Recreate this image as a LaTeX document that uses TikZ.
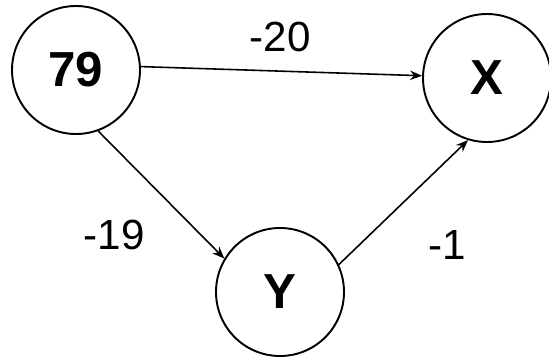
\documentclass[tikz,border=0pt]{standalone}
\usepackage{fontspec}
\setmainfont{Liberation Sans}
\usetikzlibrary{arrows.meta}

\begin{document}
\begin{tikzpicture}[
  state/.style={circle, draw, line width=1.1pt, minimum size=2.56cm, inner sep=0pt, font=\fontsize{28}{30}\selectfont\bfseries},
  arrow/.style={-{Stealth[length=2.4mm, width=1.9mm]}, line width=0.9pt},
  weight/.style={font=\fontsize{24}{26}\selectfont},
]
\useasboundingbox (0,0) rectangle (10.98,-7.16);

% === NODES ===
\node[state] (n79) at (1.52, -1.40) {79};
\node[state] (x) at (9.74, -1.56) {X};
\node[state] (y) at (5.6, -5.84) {Y};

% === EDGES ===
\draw[arrow] (n79.3) -- (x.178);
\draw[arrow] (n79.290) -- (y.149);
\draw[arrow] (y.25) -- (x.253);

\node[weight] (w1) at (5.6, -0.74) {-20};
\node[weight] (w2) at (2.28, -4.7) {-19};
\node[weight] (w3) at (8.94, -4.9) {-1};
\end{tikzpicture}
\end{document}
